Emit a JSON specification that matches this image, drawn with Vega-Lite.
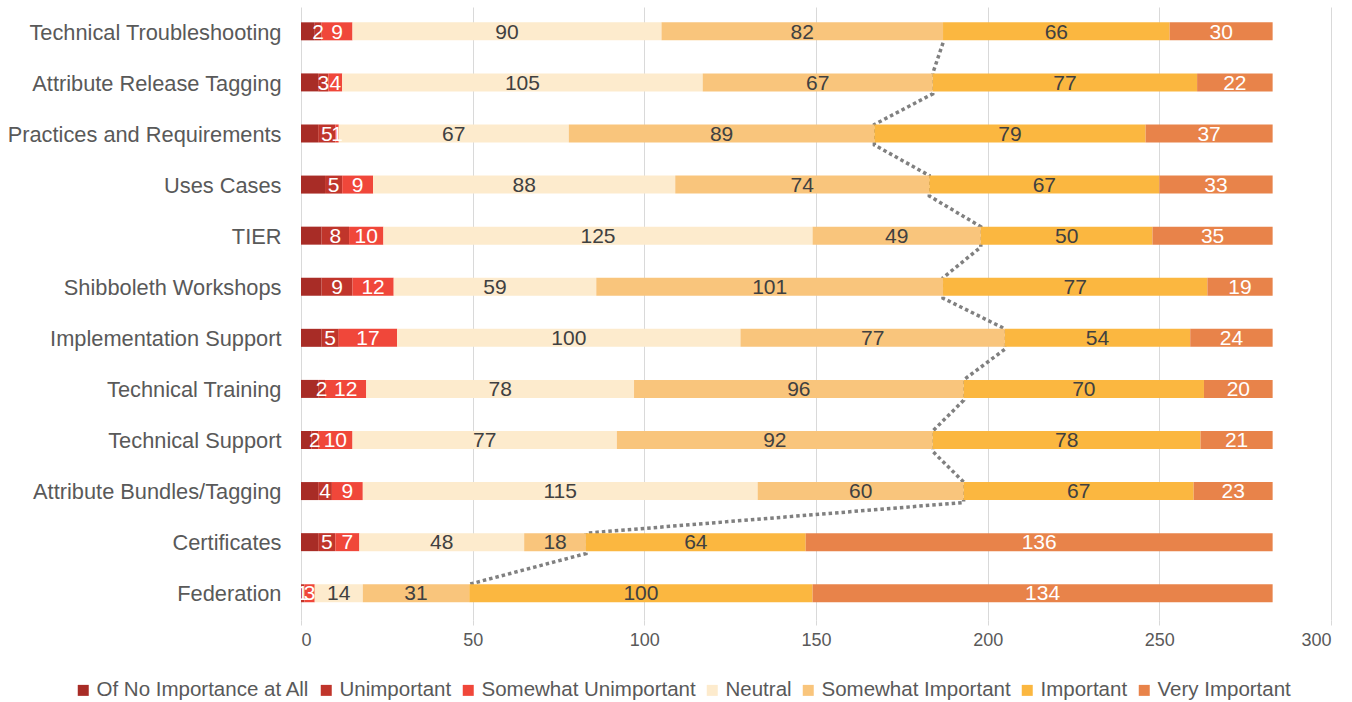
{
  "$schema": "https://vega.github.io/schema/vega-lite/v6.json",
  "autosize": "none",
  "width": 1030,
  "height": 613,
  "padding": {"left": 301, "top": 7, "right": 21, "bottom": 82},
  "background": "white",
  "config": {
    "font": "Liberation Sans",
    "view": {"stroke": null}
  },
  "datasets": {
    "bars": [
      {"c": "Technical Troubleshooting", "s": "Of No Importance at All", "k": 1, "v": 4},
      {"c": "Technical Troubleshooting", "s": "Unimportant", "k": 2, "v": 2},
      {"c": "Technical Troubleshooting", "s": "Somewhat Unimportant", "k": 3, "v": 9},
      {"c": "Technical Troubleshooting", "s": "Neutral", "k": 4, "v": 90},
      {"c": "Technical Troubleshooting", "s": "Somewhat Important", "k": 5, "v": 82},
      {"c": "Technical Troubleshooting", "s": "Important", "k": 6, "v": 66},
      {"c": "Technical Troubleshooting", "s": "Very Important", "k": 7, "v": 30},
      {"c": "Attribute Release Tagging", "s": "Of No Importance at All", "k": 1, "v": 5},
      {"c": "Attribute Release Tagging", "s": "Unimportant", "k": 2, "v": 3},
      {"c": "Attribute Release Tagging", "s": "Somewhat Unimportant", "k": 3, "v": 4},
      {"c": "Attribute Release Tagging", "s": "Neutral", "k": 4, "v": 105},
      {"c": "Attribute Release Tagging", "s": "Somewhat Important", "k": 5, "v": 67},
      {"c": "Attribute Release Tagging", "s": "Important", "k": 6, "v": 77},
      {"c": "Attribute Release Tagging", "s": "Very Important", "k": 7, "v": 22},
      {"c": "Practices and Requirements", "s": "Of No Importance at All", "k": 1, "v": 5},
      {"c": "Practices and Requirements", "s": "Unimportant", "k": 2, "v": 5},
      {"c": "Practices and Requirements", "s": "Somewhat Unimportant", "k": 3, "v": 1},
      {"c": "Practices and Requirements", "s": "Neutral", "k": 4, "v": 67},
      {"c": "Practices and Requirements", "s": "Somewhat Important", "k": 5, "v": 89},
      {"c": "Practices and Requirements", "s": "Important", "k": 6, "v": 79},
      {"c": "Practices and Requirements", "s": "Very Important", "k": 7, "v": 37},
      {"c": "Uses Cases", "s": "Of No Importance at All", "k": 1, "v": 7},
      {"c": "Uses Cases", "s": "Unimportant", "k": 2, "v": 5},
      {"c": "Uses Cases", "s": "Somewhat Unimportant", "k": 3, "v": 9},
      {"c": "Uses Cases", "s": "Neutral", "k": 4, "v": 88},
      {"c": "Uses Cases", "s": "Somewhat Important", "k": 5, "v": 74},
      {"c": "Uses Cases", "s": "Important", "k": 6, "v": 67},
      {"c": "Uses Cases", "s": "Very Important", "k": 7, "v": 33},
      {"c": "TIER", "s": "Of No Importance at All", "k": 1, "v": 6},
      {"c": "TIER", "s": "Unimportant", "k": 2, "v": 8},
      {"c": "TIER", "s": "Somewhat Unimportant", "k": 3, "v": 10},
      {"c": "TIER", "s": "Neutral", "k": 4, "v": 125},
      {"c": "TIER", "s": "Somewhat Important", "k": 5, "v": 49},
      {"c": "TIER", "s": "Important", "k": 6, "v": 50},
      {"c": "TIER", "s": "Very Important", "k": 7, "v": 35},
      {"c": "Shibboleth Workshops", "s": "Of No Importance at All", "k": 1, "v": 6},
      {"c": "Shibboleth Workshops", "s": "Unimportant", "k": 2, "v": 9},
      {"c": "Shibboleth Workshops", "s": "Somewhat Unimportant", "k": 3, "v": 12},
      {"c": "Shibboleth Workshops", "s": "Neutral", "k": 4, "v": 59},
      {"c": "Shibboleth Workshops", "s": "Somewhat Important", "k": 5, "v": 101},
      {"c": "Shibboleth Workshops", "s": "Important", "k": 6, "v": 77},
      {"c": "Shibboleth Workshops", "s": "Very Important", "k": 7, "v": 19},
      {"c": "Implementation Support", "s": "Of No Importance at All", "k": 1, "v": 6},
      {"c": "Implementation Support", "s": "Unimportant", "k": 2, "v": 5},
      {"c": "Implementation Support", "s": "Somewhat Unimportant", "k": 3, "v": 17},
      {"c": "Implementation Support", "s": "Neutral", "k": 4, "v": 100},
      {"c": "Implementation Support", "s": "Somewhat Important", "k": 5, "v": 77},
      {"c": "Implementation Support", "s": "Important", "k": 6, "v": 54},
      {"c": "Implementation Support", "s": "Very Important", "k": 7, "v": 24},
      {"c": "Technical Training", "s": "Of No Importance at All", "k": 1, "v": 5},
      {"c": "Technical Training", "s": "Unimportant", "k": 2, "v": 2},
      {"c": "Technical Training", "s": "Somewhat Unimportant", "k": 3, "v": 12},
      {"c": "Technical Training", "s": "Neutral", "k": 4, "v": 78},
      {"c": "Technical Training", "s": "Somewhat Important", "k": 5, "v": 96},
      {"c": "Technical Training", "s": "Important", "k": 6, "v": 70},
      {"c": "Technical Training", "s": "Very Important", "k": 7, "v": 20},
      {"c": "Technical Support", "s": "Of No Importance at All", "k": 1, "v": 3},
      {"c": "Technical Support", "s": "Unimportant", "k": 2, "v": 2},
      {"c": "Technical Support", "s": "Somewhat Unimportant", "k": 3, "v": 10},
      {"c": "Technical Support", "s": "Neutral", "k": 4, "v": 77},
      {"c": "Technical Support", "s": "Somewhat Important", "k": 5, "v": 92},
      {"c": "Technical Support", "s": "Important", "k": 6, "v": 78},
      {"c": "Technical Support", "s": "Very Important", "k": 7, "v": 21},
      {"c": "Attribute Bundles/Tagging", "s": "Of No Importance at All", "k": 1, "v": 5},
      {"c": "Attribute Bundles/Tagging", "s": "Unimportant", "k": 2, "v": 4},
      {"c": "Attribute Bundles/Tagging", "s": "Somewhat Unimportant", "k": 3, "v": 9},
      {"c": "Attribute Bundles/Tagging", "s": "Neutral", "k": 4, "v": 115},
      {"c": "Attribute Bundles/Tagging", "s": "Somewhat Important", "k": 5, "v": 60},
      {"c": "Attribute Bundles/Tagging", "s": "Important", "k": 6, "v": 67},
      {"c": "Attribute Bundles/Tagging", "s": "Very Important", "k": 7, "v": 23},
      {"c": "Certificates", "s": "Of No Importance at All", "k": 1, "v": 5},
      {"c": "Certificates", "s": "Unimportant", "k": 2, "v": 5},
      {"c": "Certificates", "s": "Somewhat Unimportant", "k": 3, "v": 7},
      {"c": "Certificates", "s": "Neutral", "k": 4, "v": 48},
      {"c": "Certificates", "s": "Somewhat Important", "k": 5, "v": 18},
      {"c": "Certificates", "s": "Important", "k": 6, "v": 64},
      {"c": "Certificates", "s": "Very Important", "k": 7, "v": 136},
      {"c": "Federation", "s": "Of No Importance at All", "k": 1, "v": 0},
      {"c": "Federation", "s": "Unimportant", "k": 2, "v": 1},
      {"c": "Federation", "s": "Somewhat Unimportant", "k": 3, "v": 3},
      {"c": "Federation", "s": "Neutral", "k": 4, "v": 14},
      {"c": "Federation", "s": "Somewhat Important", "k": 5, "v": 31},
      {"c": "Federation", "s": "Important", "k": 6, "v": 100},
      {"c": "Federation", "s": "Very Important", "k": 7, "v": 134}
    ],
    "lines": [
      {"c": "Technical Troubleshooting", "e": "bottom", "q": 1, "x": 187},
      {"c": "Attribute Release Tagging", "e": "top", "q": 2, "x": 184},
      {"c": "Attribute Release Tagging", "e": "bottom", "q": 3, "x": 184},
      {"c": "Practices and Requirements", "e": "top", "q": 4, "x": 167},
      {"c": "Practices and Requirements", "e": "bottom", "q": 5, "x": 167},
      {"c": "Uses Cases", "e": "top", "q": 6, "x": 183},
      {"c": "Uses Cases", "e": "bottom", "q": 7, "x": 183},
      {"c": "TIER", "e": "top", "q": 8, "x": 198},
      {"c": "TIER", "e": "bottom", "q": 9, "x": 198},
      {"c": "Shibboleth Workshops", "e": "top", "q": 10, "x": 187},
      {"c": "Shibboleth Workshops", "e": "bottom", "q": 11, "x": 187},
      {"c": "Implementation Support", "e": "top", "q": 12, "x": 205},
      {"c": "Implementation Support", "e": "bottom", "q": 13, "x": 205},
      {"c": "Technical Training", "e": "top", "q": 14, "x": 193},
      {"c": "Technical Training", "e": "bottom", "q": 15, "x": 193},
      {"c": "Technical Support", "e": "top", "q": 16, "x": 184},
      {"c": "Technical Support", "e": "bottom", "q": 17, "x": 184},
      {"c": "Attribute Bundles/Tagging", "e": "top", "q": 18, "x": 193},
      {"c": "Attribute Bundles/Tagging", "e": "bottom", "q": 19, "x": 193},
      {"c": "Certificates", "e": "top", "q": 20, "x": 83},
      {"c": "Certificates", "e": "bottom", "q": 21, "x": 83},
      {"c": "Federation", "e": "top", "q": 22, "x": 49}
    ]
  },
  "layer": [
    {
      "data": {"name": "lines"},
      "mark": {"type": "line", "stroke": "#808080", "strokeWidth": 3.5, "strokeDash": [3.5, 3]},
      "encoding": {
        "x": {"field": "x", "type": "quantitative", "scale": {"domain": [0, 300]}},
        "y": {"field": "c", "type": "nominal", "bandPosition": 0,
          "sort": ["Technical Troubleshooting", "Attribute Release Tagging", "Practices and Requirements", "Uses Cases", "TIER", "Shibboleth Workshops", "Implementation Support", "Technical Training", "Technical Support", "Attribute Bundles/Tagging", "Certificates", "Federation"]},
        "yOffset": {"field": "e", "type": "nominal", "scale": {"type": "point", "padding": 0, "domain": ["top", "bottom"]}},
        "order": {"field": "q", "type": "quantitative"}
      }
    },
    {
      "data": {"name": "bars"},
      "mark": {"type": "bar"},
      "encoding": {
        "y": {"field": "c", "type": "nominal",
          "sort": ["Technical Troubleshooting", "Attribute Release Tagging", "Practices and Requirements", "Uses Cases", "TIER", "Shibboleth Workshops", "Implementation Support", "Technical Training", "Technical Support", "Attribute Bundles/Tagging", "Certificates", "Federation"],
          "scale": {"paddingInner": 0.6, "paddingOuter": 0.3},
          "axis": {"title": null, "domain": false, "ticks": false, "labelPadding": 20, "labelLimit": 0, "labelFontSize": 21.8, "labelColor": "#595959", "labelFont": "Liberation Sans"}},
        "x": {"field": "v", "type": "quantitative", "stack": "zero",
          "scale": {"domain": [0, 300]},
          "axis": {"title": null, "values": [0, 50, 100, 150, 200, 250, 300], "domain": false, "ticks": true, "tickSize": 5, "tickColor": "#D9D9D9", "grid": true, "gridColor": "#D9D9D9", "labelFontSize": 18, "labelColor": "#595959", "labelPadding": 6, "labelFont": "Liberation Sans"}},
        "color": {"field": "s", "type": "nominal",
          "scale": {"domain": ["Of No Importance at All", "Unimportant", "Somewhat Unimportant", "Neutral", "Somewhat Important", "Important", "Very Important"],
            "range": ["#A82C26", "#C0352B", "#F0473A", "#FDEBCD", "#F9C57C", "#FBB740", "#E8834A"]},
          "legend": {"title": null, "orient": "none", "legendX": -228, "legendY": 673, "direction": "horizontal", "symbolType": "square", "symbolSize": 121, "symbolStrokeWidth": 0, "labelFontSize": 20.5, "labelLimit": 0, "labelColor": "#595959", "labelFont": "Liberation Sans", "columnPadding": 6, "labelOffset": 3}},
        "order": {"field": "k", "type": "quantitative"}
      }
    },
    {
      "data": {"name": "bars"},
      "mark": {"type": "text", "fontSize": 21, "baseline": "middle", "align": "center", "font": "Liberation Sans"},
      "encoding": {
        "y": {"field": "c", "type": "nominal",
          "sort": ["Technical Troubleshooting", "Attribute Release Tagging", "Practices and Requirements", "Uses Cases", "TIER", "Shibboleth Workshops", "Implementation Support", "Technical Training", "Technical Support", "Attribute Bundles/Tagging", "Certificates", "Federation"]},
        "x": {"field": "v", "type": "quantitative", "stack": "zero", "bandPosition": 0.5},
        "order": {"field": "k", "type": "quantitative"},
        "text": {"condition": {"test": "datum.s === 'Of No Importance at All' || datum.v === 0", "value": ""}, "field": "v", "type": "quantitative"},
        "color": {"condition": {"test": "datum.s === 'Unimportant' || datum.s === 'Somewhat Unimportant' || datum.s === 'Very Important' || datum.s === 'Of No Importance at All'", "value": "#FFFFFF"}, "value": "#404040"}
      }
    }
  ]
}
